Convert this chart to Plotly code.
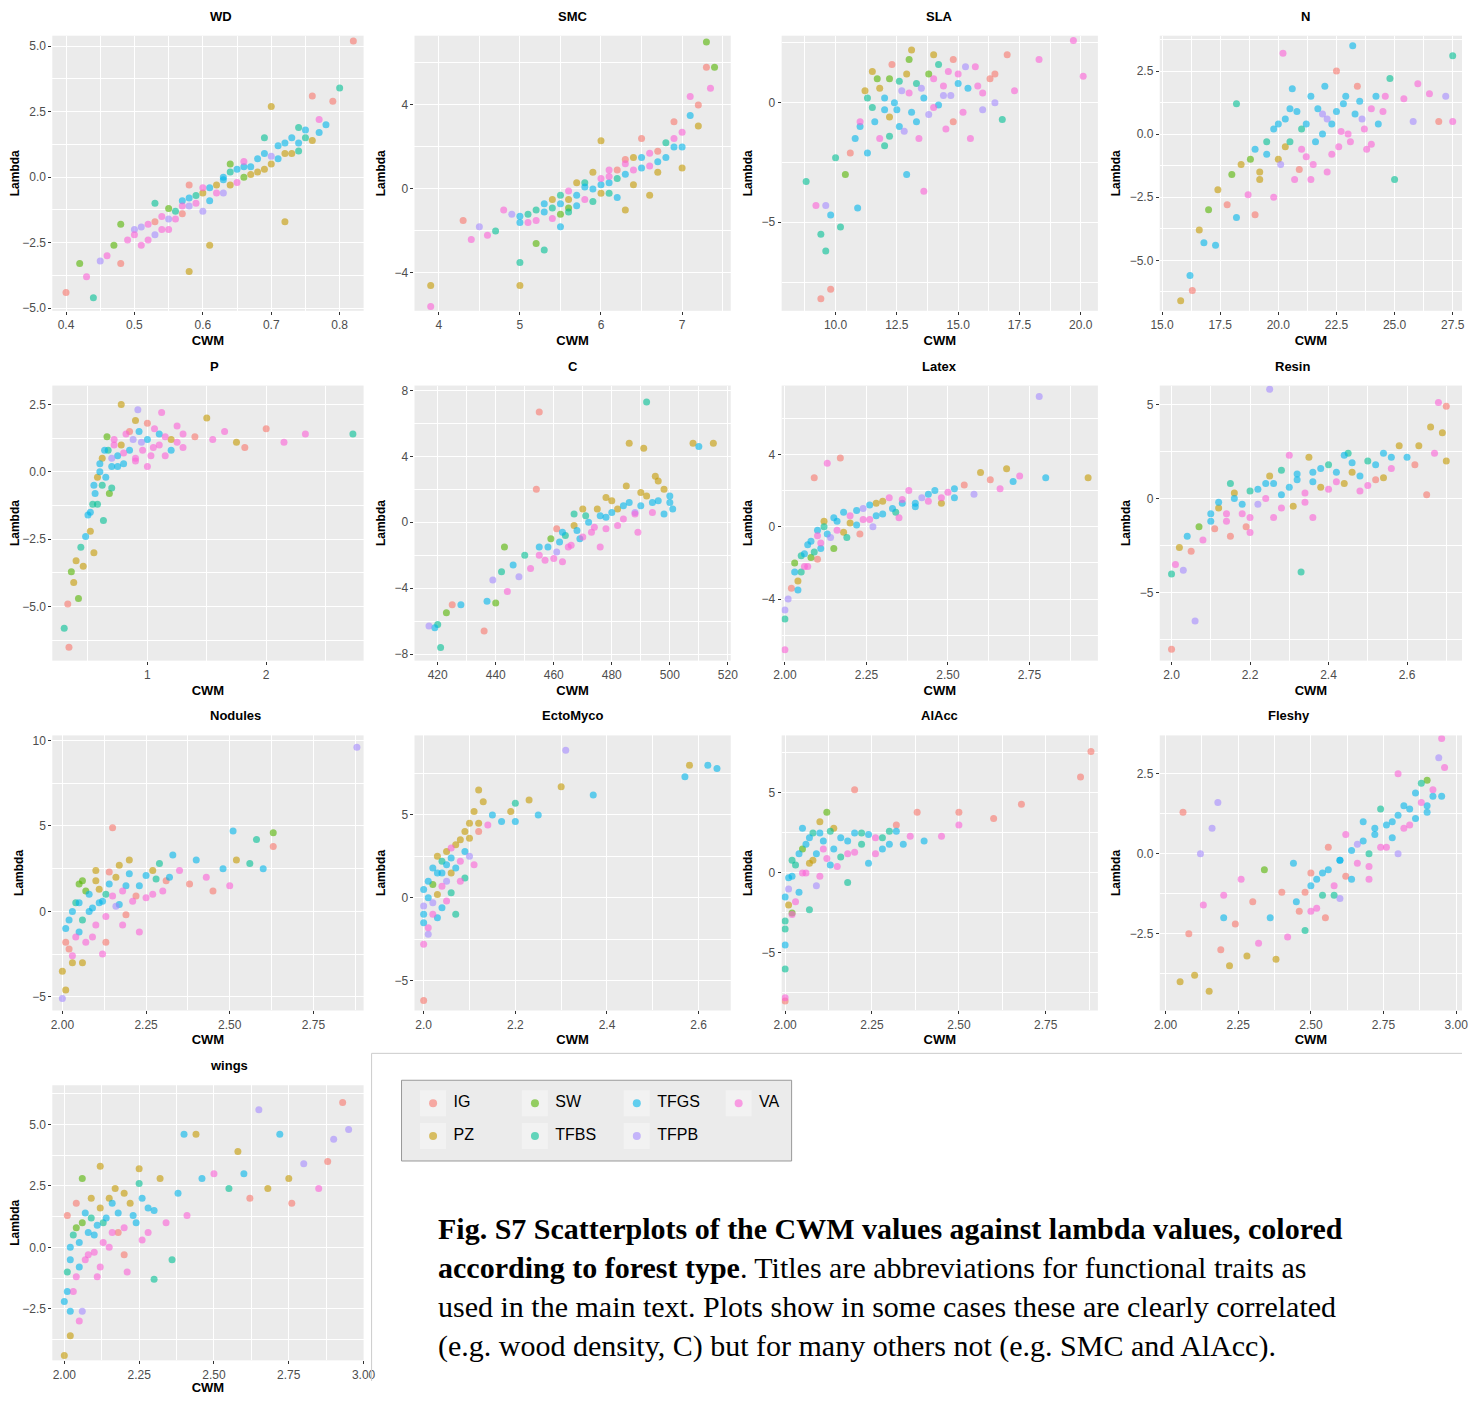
import plotly.graph_objects as go

GROUPS = ["IG", "PZ", "SW", "TFBS", "TFGS", "TFPB", "VA"]
COLORS = ["#F8766D", "#C49A00", "#53B400", "#00C094", "#00B6EB", "#A58AFF", "#FB61D7"]

# (CWM, Lambda, group index): outlying points, then the dense core of each cloud
WD = [(0.40,-4.4,0),(0.42,-3.3,2),(0.43,-3.8,6),(0.44,-4.6,3),(0.45,-3.2,5),(0.46,-3.0,6),(0.47,-2.6,2),(0.48,-3.3,0),(0.49,-2.4,6),(0.50,-2.0,5),(0.51,-2.6,6),(0.52,-1.8,6),(0.53,-2.2,5),(0.54,-1.5,6),(0.55,-1.2,2),(0.56,-1.6,6),(0.57,-0.9,4),(0.58,-3.6,1),(0.58,-1.1,5),(0.59,-0.7,3),(0.60,-0.4,6),(0.61,-2.6,1),(0.61,-0.9,4),(0.62,-0.3,1),(0.63,-0.1,4),(0.64,0.2,3),(0.65,-0.2,6),(0.66,0.4,4),(0.67,0.1,1),(0.68,0.7,4),(0.69,0.3,1),(0.70,0.8,5),(0.71,1.2,4),(0.72,0.9,1),(0.72,-1.7,1),(0.73,1.5,4),(0.74,1.0,3),(0.75,1.8,4),(0.76,1.4,1),(0.77,2.2,6),(0.78,2.0,4),(0.79,2.9,0),(0.80,3.4,3),(0.82,5.2,0),(0.70,2.7,1),(0.55,-2.0,6),(0.57,-1.4,0),(0.63,-0.6,5),(0.66,0.0,2),(0.53,-1.0,3),(0.48,-1.8,2),(0.69,1.5,3),(0.74,1.9,3),(0.76,3.1,0)]
WD_CORE = [(0.50,-2.2,6),(0.51,-1.9,5),(0.52,-2.4,6),(0.53,-1.7,0),(0.54,-2.0,6),(0.55,-1.6,5),(0.56,-1.3,3),(0.57,-1.1,6),(0.58,-0.8,4),(0.59,-1.0,6),(0.60,-0.6,1),(0.61,-0.4,4),(0.62,-0.6,6),(0.63,0.0,4),(0.64,-0.3,1),(0.65,0.3,4),(0.66,0.6,6),(0.67,0.4,4),(0.68,0.2,1),(0.69,0.9,4),(0.70,0.5,1),(0.71,0.7,4),(0.72,1.3,4),(0.73,0.9,1),(0.74,1.3,4),(0.75,1.5,3),(0.77,1.7,4),(0.64,0.5,2),(0.60,-1.3,5),(0.58,-0.3,0)]
SMC = [(3.9,-4.6,1),(3.9,-5.6,6),(4.3,-1.5,0),(4.4,-2.4,6),(4.5,-1.8,5),(4.6,-2.2,6),(4.7,-2.0,3),(4.8,-1.0,6),(4.9,-1.2,5),(5.0,-4.6,1),(5.0,-3.5,3),(5.0,-1.3,4),(5.1,-1.6,6),(5.2,-1.0,3),(5.2,-2.6,2),(5.3,-0.7,4),(5.3,-2.9,3),(5.4,-0.5,1),(5.5,-1.8,4),(5.5,-0.3,3),(5.6,-0.1,6),(5.7,-0.8,4),(5.7,0.3,1),(5.8,0.1,4),(5.9,0.8,1),(5.9,-0.6,3),(6.0,0.2,4),(6.0,2.3,1),(6.1,0.6,6),(6.2,0.9,0),(6.2,-0.4,4),(6.3,1.2,6),(6.3,-1.0,1),(6.4,1.5,1),(6.5,1.0,4),(6.5,2.4,0),(6.6,1.7,6),(6.6,-0.3,1),(6.7,1.3,4),(6.8,2.2,3),(6.9,2.0,4),(6.9,3.2,0),(7.0,2.7,6),(7.0,1.0,1),(7.1,3.5,4),(7.1,4.4,6),(7.2,3.0,1),(7.2,4.0,0),(7.3,5.8,0),(7.3,7.0,2),(7.4,5.8,2),(7.35,4.8,6),(6.1,-0.2,3),(5.6,-0.9,2)]
SMC_CORE = [(5.0,-1.6,4),(5.1,-1.2,3),(5.2,-1.5,6),(5.3,-1.1,4),(5.4,-0.9,3),(5.4,-1.4,6),(5.5,-0.7,4),(5.6,-0.5,1),(5.6,-1.1,3),(5.7,-0.3,4),(5.8,-0.5,6),(5.8,0.3,3),(5.9,0.0,4),(6.0,0.5,6),(6.0,-0.2,1),(6.1,0.3,4),(6.1,0.9,6),(6.2,0.5,3),(6.3,0.7,4),(6.3,1.4,0),(6.4,0.9,6),(6.5,1.5,4),(6.6,1.1,6),(6.7,1.8,0),(6.8,1.5,4),(6.9,2.4,6),(7.0,2.0,4),(6.4,0.2,1),(6.7,0.8,1),(5.5,-1.2,2)]
SLA = [(8.8,-3.3,3),(9.2,-4.3,6),(9.4,-5.5,3),(9.4,-8.2,0),(9.6,-4.3,5),(9.6,-6.2,3),(9.8,-7.8,0),(9.8,-4.7,4),(10.0,-2.3,3),(10.2,-5.2,3),(10.4,-3.0,2),(10.6,-2.1,0),(10.8,-1.5,4),(10.9,-4.4,4),(11.0,-0.8,6),(11.2,0.5,1),(11.3,-2.1,4),(11.5,-0.2,3),(11.7,1.0,2),(11.8,-1.5,6),(12.0,0.2,4),(12.2,-0.6,1),(12.3,1.6,0),(12.5,-0.3,4),(12.6,0.9,3),(12.8,-1.2,5),(12.9,-3.0,4),(13.0,0.4,6),(13.1,2.2,1),(13.3,-0.8,4),(13.5,0.6,5),(13.6,-3.7,6),(13.8,1.2,2),(14.0,-0.2,6),(14.2,1.6,3),(14.4,0.3,5),(14.6,1.3,6),(14.8,-0.8,0),(15.0,0.8,4),(15.3,1.5,5),(15.5,-1.5,6),(15.8,0.7,6),(16.0,-0.3,5),(16.3,1.0,0),(16.5,0.0,5),(16.8,-0.7,3),(17.0,2.0,0),(17.3,0.5,6),(18.3,1.8,6),(19.7,2.6,6),(20.1,1.1,6),(14.0,2.0,1),(12.0,-1.8,3)]
SLA_CORE = [(11.0,-1.0,4),(11.3,0.2,3),(11.6,-0.8,4),(11.8,0.6,1),(12.0,-0.3,4),(12.2,1.0,2),(12.4,0.0,4),(12.6,-1.0,4),(12.7,0.5,5),(12.9,1.2,1),(13.1,-0.4,4),(13.3,0.8,3),(13.4,-1.5,6),(13.6,0.2,4),(13.8,-0.5,5),(14.0,1.0,6),(14.2,-0.1,4),(14.4,0.7,6),(14.5,-1.1,6),(14.7,0.3,5),(15.0,1.2,6),(15.2,-0.4,6),(15.4,0.6,4),(15.7,1.5,6),(16.0,0.4,6),(12.2,-1.4,3),(11.5,1.3,1),(13.0,1.8,2),(14.8,1.8,0),(16.5,1.2,0)]
N = [(15.8,-6.6,1),(16.2,-5.6,4),(16.3,-6.2,0),(16.6,-3.8,1),(16.8,-4.3,4),(17.0,-3.0,2),(17.3,-4.4,4),(17.4,-2.2,1),(17.8,-2.8,0),(18.0,-1.6,2),(18.2,-3.3,4),(18.4,-1.2,1),(18.7,-2.4,6),(19.0,-0.6,4),(19.2,-1.8,1),(19.5,-0.3,3),(19.8,-2.5,6),(20.0,0.4,4),(20.1,-1.2,5),(20.3,-0.5,1),(20.5,1.0,4),(20.7,-1.8,6),(21.0,0.2,3),(21.2,-0.9,6),(21.4,1.5,4),(21.6,-0.3,4),(21.9,0.8,5),(22.1,-1.5,6),(22.3,0.4,4),(22.6,-0.5,6),(22.8,1.2,4),(23.0,0.0,6),(23.2,3.5,4),(23.4,1.9,0),(23.6,0.6,5),(24.0,-0.4,6),(24.2,1.5,4),(24.5,0.9,6),(24.8,2.2,3),(25.0,-1.8,3),(25.4,1.4,6),(25.8,0.5,5),(26.0,2.0,6),(26.5,1.6,6),(26.9,0.5,0),(27.2,1.5,5),(27.5,3.1,3),(27.5,0.5,6),(20.2,3.2,6),(18.2,1.2,3),(22.5,2.5,0),(19.0,-3.2,0)]
N_CORE = [(19.5,-0.8,4),(19.8,0.2,4),(20.0,-1.0,1),(20.3,0.6,4),(20.5,-0.3,3),(20.8,0.9,4),(21.0,-0.6,6),(21.2,0.4,4),(21.5,-1.2,6),(21.7,1.0,4),(21.9,0.0,4),(22.1,0.6,5),(22.3,-0.8,6),(22.5,0.9,4),(22.7,0.1,6),(22.9,1.5,4),(23.1,-0.3,6),(23.3,0.8,4),(23.5,1.3,4),(23.7,0.2,6),(24.0,1.0,6),(24.3,0.4,4),(24.6,1.5,6),(20.6,1.8,4),(19.2,-1.5,1),(21.4,-1.8,6),(22.0,1.9,4),(23.8,-0.6,6),(18.8,-1.0,2),(20.9,-1.4,0)]
P = [(0.30,-5.8,3),(0.33,-4.9,0),(0.34,-6.5,0),(0.36,-3.7,2),(0.38,-4.1,1),(0.40,-3.3,1),(0.42,-4.7,2),(0.44,-2.8,3),(0.46,-3.5,1),(0.48,-2.4,4),(0.50,-1.6,4),(0.52,-2.2,1),(0.54,-1.2,3),(0.56,-0.8,4),(0.58,-0.2,1),(0.60,0.3,4),(0.62,-0.5,3),(0.64,0.8,4),(0.66,1.3,2),(0.70,0.5,5),(0.72,1.0,6),(0.75,0.2,4),(0.78,2.5,1),(0.80,0.7,6),(0.85,1.5,0),(0.90,0.4,6),(0.95,1.1,5),(1.00,1.8,0),(1.05,0.9,6),(1.10,1.4,4),(1.15,0.6,6),(1.20,1.2,1),(1.25,1.7,6),(1.30,0.9,6),(1.40,1.3,0),(1.50,2.0,1),(1.55,1.2,6),(1.65,1.5,6),(1.75,1.1,1),(1.82,0.9,0),(2.00,1.6,0),(2.15,1.1,6),(2.33,1.4,6),(2.73,1.4,3),(0.55,-3.0,1),(0.68,-0.8,2),(0.92,2.3,5),(1.12,2.2,6)]
P_CORE = [(0.52,-1.5,4),(0.55,-0.5,4),(0.58,-1.2,3),(0.60,0.0,4),(0.62,0.5,1),(0.65,-0.2,4),(0.67,0.8,3),(0.70,0.2,4),(0.72,1.2,6),(0.75,0.6,4),(0.78,1.0,1),(0.80,0.3,4),(0.82,1.4,6),(0.85,0.8,4),(0.88,1.2,5),(0.90,0.5,6),(0.93,1.5,4),(0.96,0.8,6),(1.00,1.2,4),(1.03,0.6,6),(1.06,1.6,6),(1.10,1.0,6),(1.15,1.3,6),(1.20,0.8,4),(1.25,1.1,6),(1.30,1.4,6),(0.70,-0.6,3),(0.63,-1.8,3),(0.90,1.9,1),(1.00,0.2,6)]
C = [(417,-6.3,5),(419,-6.4,4),(420,-6.2,3),(421,-7.6,3),(423,-5.5,2),(425,-5.0,0),(428,-5.0,4),(436,-6.6,0),(437,-4.8,4),(439,-3.5,5),(440,-4.9,2),(442,-3.0,3),(444,-4.2,6),(446,-2.6,4),(448,-3.3,5),(450,-2.0,3),(452,-2.8,6),(454,2.0,0),(455,6.7,0),(455,-1.5,4),(457,-2.3,6),(459,-1.0,2),(461,-1.8,5),(463,-0.6,4),(465,-1.5,6),(467,-0.2,1),(469,-1.0,4),(471,0.4,3),(473,-0.6,6),(475,0.8,1),(476,-1.5,6),(478,0.3,4),(480,1.3,1),(482,-0.2,6),(484,1.0,4),(486,4.8,1),(488,0.6,5),(490,1.8,1),(491,4.5,1),(492,7.3,3),(494,1.2,4),(496,2.5,1),(498,0.5,4),(500,1.6,4),(501,0.8,4),(508,4.8,1),(510,4.6,4),(515,4.8,1),(461,-0.4,0),(443,-1.5,2)]
C_CORE = [(455,-2.0,6),(458,-1.5,4),(460,-2.2,6),(462,-1.2,4),(464,-0.8,3),(466,-1.4,6),(468,-0.5,4),(470,-0.9,6),(472,0.0,4),(474,-0.3,6),(476,0.4,4),(478,-0.4,6),(480,0.6,4),(482,0.8,1),(484,0.2,6),(486,1.2,4),(488,0.5,6),(490,1.0,4),(492,1.6,1),(494,0.6,6),(496,1.3,4),(498,2.0,1),(500,1.2,4),(470,0.8,1),(478,1.5,1),(485,2.2,1),(463,-2.4,6),(489,-0.6,6),(495,2.8,1),(467,0.5,3)]
LATEX = [(2.00,-6.8,6),(2.00,-4.6,5),(2.00,-5.1,3),(2.01,-4.0,5),(2.02,-3.4,0),(2.03,-2.5,4),(2.04,-3.0,1),(2.05,-1.6,3),(2.06,-2.2,6),(2.07,-1.0,4),(2.08,-1.7,2),(2.09,2.7,0),(2.10,-0.5,6),(2.11,-1.2,4),(2.12,0.0,3),(2.13,3.5,6),(2.14,-0.6,5),(2.16,0.3,4),(2.17,3.8,0),(2.18,-0.3,1),(2.20,0.6,6),(2.22,0.1,4),(2.24,1.0,5),(2.26,0.4,6),(2.28,1.3,1),(2.30,0.7,4),(2.32,1.6,6),(2.34,0.8,3),(2.36,1.3,4),(2.38,2.0,6),(2.40,1.1,4),(2.42,1.6,5),(2.44,1.4,6),(2.46,2.0,4),(2.48,1.3,1),(2.50,1.9,6),(2.52,1.6,4),(2.55,2.3,0),(2.58,1.8,5),(2.60,3.0,1),(2.63,2.6,0),(2.66,2.1,6),(2.68,3.2,1),(2.70,2.5,4),(2.72,2.8,6),(2.78,7.2,5),(2.80,2.7,4),(2.93,2.7,1),(2.15,-1.2,2),(2.23,-0.4,0)]
LATEX_CORE = [(2.05,-2.5,3),(2.06,-1.5,4),(2.07,-2.2,6),(2.08,-0.8,4),(2.09,-1.4,3),(2.10,-0.2,4),(2.11,-0.9,6),(2.12,0.3,1),(2.13,-0.4,4),(2.15,0.5,4),(2.16,-0.2,6),(2.18,0.8,4),(2.20,0.2,1),(2.22,0.9,4),(2.24,0.4,6),(2.26,1.2,4),(2.28,0.6,4),(2.30,1.4,1),(2.33,1.0,4),(2.36,1.5,6),(2.40,1.3,4),(2.44,1.8,4),(2.48,1.6,6),(2.04,-3.5,4),(2.03,-2.0,2),(2.19,-0.6,3),(2.27,0.0,5),(2.35,0.5,6),(2.52,2.1,4),(2.10,-1.8,0)]
RESIN = [(2.00,-8.0,0),(2.00,-4.0,3),(2.01,-3.5,6),(2.02,-2.6,1),(2.03,-3.8,5),(2.04,-2.0,4),(2.05,-2.8,0),(2.06,-6.5,5),(2.07,-1.5,2),(2.08,-2.2,6),(2.10,-0.8,4),(2.11,-1.6,0),(2.12,-0.5,1),(2.14,-1.2,6),(2.16,0.0,4),(2.18,-0.8,6),(2.19,-1.5,0),(2.20,0.4,3),(2.22,-0.3,5),(2.24,0.8,4),(2.25,5.8,5),(2.26,-1.0,6),(2.28,0.2,4),(2.30,2.3,6),(2.31,-0.4,1),(2.32,1.0,4),(2.33,-3.9,3),(2.34,0.3,6),(2.36,1.4,4),(2.38,0.6,1),(2.40,1.8,3),(2.42,0.9,6),(2.44,2.3,4),(2.46,1.4,1),(2.48,0.4,6),(2.50,2.0,3),(2.52,1.0,0),(2.54,2.4,4),(2.56,1.6,6),(2.58,2.8,1),(2.60,2.2,4),(2.62,1.8,0),(2.63,2.8,1),(2.65,0.2,0),(2.66,3.8,1),(2.67,2.4,6),(2.68,5.1,6),(2.69,3.5,1),(2.70,4.9,0),(2.70,2.0,1),(2.35,2.2,1),(2.15,0.8,3)]
RESIN_CORE = [(2.10,-1.2,4),(2.12,-0.2,4),(2.14,-0.8,6),(2.16,0.3,1),(2.18,-0.3,4),(2.20,-1.0,6),(2.22,0.5,4),(2.24,0.0,6),(2.26,0.8,4),(2.28,-0.5,6),(2.30,0.6,4),(2.32,1.3,4),(2.34,-0.2,6),(2.36,0.9,4),(2.38,1.6,4),(2.40,0.5,6),(2.42,1.4,4),(2.44,0.8,1),(2.46,1.9,4),(2.48,1.2,4),(2.50,0.7,6),(2.52,1.8,4),(2.54,1.1,1),(2.56,2.2,4),(2.20,-1.8,6),(2.28,1.5,3),(2.36,-1.0,6),(2.15,-2.0,0),(2.45,2.4,3),(2.25,1.2,1)]
NODULES = [(2.00,-5.1,5),(2.00,-3.5,1),(2.01,-1.8,0),(2.01,-4.6,1),(2.02,-0.5,4),(2.03,-2.6,6),(2.04,0.5,3),(2.05,-1.2,4),(2.06,-3.0,1),(2.07,1.2,2),(2.08,0.0,4),(2.09,-1.5,6),(2.10,1.8,1),(2.11,0.5,4),(2.12,-2.5,6),(2.13,1.0,3),(2.14,2.3,0),(2.15,4.9,0),(2.16,0.3,5),(2.17,2.7,1),(2.18,-0.8,6),(2.19,1.5,4),(2.20,3.0,1),(2.22,0.9,0),(2.23,-1.2,6),(2.25,2.1,4),(2.27,1.0,6),(2.29,2.8,3),(2.31,1.8,0),(2.33,3.3,4),(2.35,2.4,6),(2.38,1.6,0),(2.40,3.0,4),(2.43,2.0,6),(2.45,1.2,0),(2.48,2.5,4),(2.50,1.5,6),(2.51,4.7,4),(2.52,3.0,1),(2.56,2.8,3),(2.58,4.2,3),(2.60,2.5,4),(2.63,4.6,2),(2.63,3.8,0),(2.88,9.6,5),(2.05,1.6,2),(2.13,-1.8,0)]
NODULES_CORE = [(2.01,-1.0,4),(2.02,-2.2,0),(2.03,0.0,4),(2.04,-1.5,6),(2.05,0.5,4),(2.06,-0.5,3),(2.07,-1.8,6),(2.08,1.0,4),(2.09,0.2,4),(2.10,-0.8,6),(2.11,1.3,1),(2.12,0.6,4),(2.13,-0.3,6),(2.14,1.6,4),(2.15,0.9,6),(2.16,2.0,1),(2.17,0.4,4),(2.18,1.2,6),(2.20,2.2,4),(2.21,0.6,6),(2.23,1.5,4),(2.25,0.8,6),(2.27,2.4,1),(2.30,1.2,6),(2.32,2.0,4),(2.03,-3.0,1),(2.06,1.8,2),(2.10,2.4,1),(2.19,-0.2,0),(2.28,1.9,3)]
ECTOMYCO = [(2.00,-6.2,0),(2.00,-2.8,6),(2.00,-1.5,4),(2.00,-0.5,5),(2.01,0.0,4),(2.01,-2.2,5),(2.02,0.8,2),(2.02,-1.0,6),(2.03,1.5,4),(2.03,0.2,1),(2.04,2.2,3),(2.04,-0.6,4),(2.05,2.8,1),(2.05,1.0,5),(2.06,0.3,3),(2.06,3.0,6),(2.07,1.8,4),(2.07,-1.0,3),(2.08,3.5,1),(2.08,2.2,6),(2.09,4.0,1),(2.09,1.2,3),(2.10,4.5,1),(2.10,2.5,5),(2.11,5.2,1),(2.12,4.0,0),(2.12,6.5,1),(2.13,5.8,1),(2.14,4.4,6),(2.15,5.0,4),(2.17,4.6,4),(2.19,5.2,1),(2.20,4.6,4),(2.20,5.7,3),(2.23,5.9,1),(2.25,5.0,4),(2.30,6.7,1),(2.31,8.9,5),(2.37,6.2,4),(2.57,7.3,4),(2.58,8.0,1),(2.62,8.0,4),(2.64,7.8,4)]
ECTOMYCO_CORE = [(2.00,-1.0,4),(2.00,0.5,4),(2.01,-1.8,6),(2.01,1.0,4),(2.02,-0.3,5),(2.02,1.8,4),(2.03,-1.2,4),(2.03,2.5,1),(2.04,0.7,6),(2.04,1.5,4),(2.05,2.0,4),(2.05,-0.2,6),(2.06,1.5,1),(2.06,2.4,4),(2.07,3.2,1),(2.08,1.0,6),(2.09,2.8,4),(2.10,3.6,1),(2.11,2.0,6),(2.12,4.5,1)]
ALACC = [(2.00,-8.0,0),(2.00,-6.0,3),(2.00,-7.8,6),(2.00,-4.5,4),(2.00,-3.0,3),(2.01,-2.0,1),(2.01,-1.0,5),(2.02,-0.2,4),(2.02,-2.6,6),(2.03,0.5,3),(2.04,-1.2,4),(2.05,1.5,2),(2.06,0.0,6),(2.07,2.2,4),(2.08,0.8,1),(2.09,-0.8,5),(2.10,2.5,4),(2.11,1.5,6),(2.12,3.8,2),(2.13,0.5,4),(2.14,2.8,1),(2.16,1.0,3),(2.18,2.0,4),(2.20,5.2,0),(2.20,1.3,6),(2.22,2.5,3),(2.24,0.6,4),(2.26,2.2,6),(2.28,1.5,4),(2.30,2.6,3),(2.32,3.0,0),(2.34,1.8,4),(2.36,2.3,6),(2.38,3.8,0),(2.40,2.0,4),(2.45,2.3,6),(2.50,3.8,0),(2.50,3.0,6),(2.60,3.4,0),(2.68,4.3,0),(2.85,6.0,0),(2.88,7.6,0),(2.07,-2.3,3)]
ALACC_CORE = [(2.00,-1.5,4),(2.01,-0.3,4),(2.02,0.8,3),(2.03,-1.8,6),(2.04,1.2,4),(2.05,0.0,6),(2.06,1.8,4),(2.07,0.6,1),(2.08,2.5,3),(2.09,1.2,4),(2.10,-0.2,6),(2.11,2.0,4),(2.12,0.9,6),(2.13,2.6,3),(2.14,1.5,4),(2.15,0.4,6),(2.16,2.2,4),(2.18,1.2,6),(2.20,2.5,4),(2.22,1.8,3),(2.24,2.4,4),(2.26,1.2,6),(2.28,2.2,3),(2.30,1.8,4),(2.32,2.6,4),(2.00,-3.5,3),(2.02,-2.5,2),(2.10,3.2,1),(2.05,2.8,4),(2.18,-0.6,3)]
FLESHY = [(2.05,-4.0,1),(2.06,1.3,0),(2.08,-2.5,0),(2.10,-3.8,1),(2.12,0.0,5),(2.13,-1.6,6),(2.15,-4.3,1),(2.16,0.8,5),(2.18,1.6,5),(2.19,-3.0,0),(2.20,-1.3,6),(2.22,-3.5,1),(2.24,-2.2,0),(2.26,-0.8,6),(2.28,-3.2,1),(2.30,-1.5,0),(2.32,-2.8,6),(2.34,-0.5,2),(2.36,-2.0,4),(2.38,-3.3,1),(2.40,-1.2,0),(2.42,-2.6,6),(2.44,-0.3,4),(2.46,-1.8,0),(2.48,-2.4,3),(2.50,-1.0,4),(2.52,-1.7,6),(2.54,-0.6,4),(2.56,0.2,0),(2.58,-1.3,3),(2.60,-0.2,4),(2.62,0.6,6),(2.64,-0.8,4),(2.66,0.3,5),(2.68,1.0,4),(2.70,-0.4,6),(2.72,0.8,4),(2.74,1.4,3),(2.76,0.2,6),(2.78,1.0,4),(2.80,2.5,6),(2.82,1.5,4),(2.84,0.9,6),(2.86,1.9,4),(2.88,2.2,3),(2.90,1.5,4),(2.92,2.0,6),(2.94,3.0,5),(2.95,3.6,6),(2.96,2.7,6),(2.95,1.8,4),(2.20,-2.0,4)]
FLESHY_CORE = [(2.45,-1.5,4),(2.48,-1.2,0),(2.50,-1.8,6),(2.52,-0.8,4),(2.54,-1.3,3),(2.56,-0.5,4),(2.58,-1.0,6),(2.60,-0.2,4),(2.62,-0.7,0),(2.64,0.1,4),(2.66,-0.3,6),(2.68,0.4,4),(2.70,0.0,3),(2.72,0.6,4),(2.74,0.2,6),(2.76,0.9,4),(2.78,0.5,4),(2.80,1.2,4),(2.82,0.8,6),(2.84,1.4,4),(2.86,1.1,4),(2.88,1.6,6),(2.90,1.3,4),(2.92,1.8,4),(2.55,-2.0,0),(2.60,-1.4,5),(2.70,-0.8,6),(2.80,0.0,5),(2.90,2.3,2),(2.50,-0.6,0)]
WINGS = [(2.00,-4.4,1),(2.00,-2.2,4),(2.01,-1.0,3),(2.01,1.3,0),(2.02,-3.6,1),(2.02,0.0,4),(2.03,-1.8,6),(2.04,0.8,2),(2.05,-0.8,4),(2.06,2.8,2),(2.06,-2.6,5),(2.07,1.4,4),(2.08,-0.3,6),(2.09,2.0,1),(2.10,0.5,4),(2.11,-1.2,6),(2.12,3.3,1),(2.13,1.0,3),(2.15,0.0,6),(2.16,1.8,4),(2.18,0.6,0),(2.20,2.2,1),(2.21,-1.0,6),(2.23,1.3,4),(2.25,3.2,1),(2.26,0.3,6),(2.28,1.6,4),(2.30,-1.3,3),(2.32,2.8,1),(2.34,1.0,6),(2.36,-0.5,3),(2.38,2.2,4),(2.40,4.6,4),(2.41,1.3,6),(2.44,4.6,1),(2.46,2.8,4),(2.50,3.0,6),(2.55,2.4,3),(2.58,3.9,1),(2.60,3.0,4),(2.62,2.0,0),(2.65,5.6,5),(2.68,2.4,1),(2.72,4.6,4),(2.75,2.8,1),(2.80,3.4,5),(2.85,2.4,6),(2.88,3.5,0),(2.90,4.4,5),(2.93,5.9,0),(2.95,4.8,5),(2.76,1.8,0)]
WINGS_CORE = [(2.01,-1.8,4),(2.02,-0.5,4),(2.03,0.5,3),(2.04,-1.2,6),(2.05,0.2,4),(2.06,1.0,2),(2.07,-0.5,6),(2.08,0.6,4),(2.09,1.2,3),(2.10,-0.2,6),(2.11,0.9,4),(2.12,1.6,1),(2.13,0.2,6),(2.14,1.2,4),(2.15,2.0,1),(2.16,0.6,6),(2.18,1.4,4),(2.20,0.8,6),(2.22,1.8,1),(2.24,1.0,4),(2.26,2.0,4),(2.28,0.6,6),(2.30,1.5,4),(2.02,-2.6,4),(2.05,-3.0,6),(2.17,2.4,1),(2.12,-0.8,6),(2.25,2.6,3),(2.04,1.8,0),(2.20,-0.3,0)]

# title, data, x range, x dtick, x format, y range, y dtick, y format
PANELS = [
    ("WD", WD + WD_CORE, [0.38, 0.835], 0.1, ".1f", [-5.1, 5.4], 2.5, ".1f"),
    ("SMC", SMC + SMC_CORE, [3.7, 7.6], 1, "d", [-5.8, 7.3], 4, "d"),
    ("SLA", SLA + SLA_CORE, [7.8, 20.7], 2.5, ".1f", [-8.7, 2.8], 5, "d"),
    ("N", N + N_CORE, [14.9, 27.9], 2.5, ".1f", [-7.0, 3.9], 2.5, ".1f"),
    ("P", P + P_CORE, [0.2, 2.82], 1, "d", [-7.0, 3.2], 2.5, ".1f"),
    ("C", C + C_CORE, [412, 521], 20, "d", [-8.4, 8.3], 4, "d"),
    ("Latex", LATEX + LATEX_CORE, [1.99, 2.96], 0.25, ".2f", [-7.4, 7.8], 4, "d"),
    ("Resin", RESIN + RESIN_CORE, [1.97, 2.74], 0.2, ".1f", [-8.6, 6.0], 5, "d"),
    ("Nodules", NODULES + NODULES_CORE, [1.97, 2.9], 0.25, ".2f", [-5.8, 10.3], 5, "d"),
    ("EctoMyco", ECTOMYCO + ECTOMYCO_CORE, [1.98, 2.67], 0.2, ".1f", [-6.8, 9.8], 5, "d"),
    ("AlAcc", ALACC + ALACC_CORE, [1.99, 2.9], 0.25, ".2f", [-8.6, 8.6], 5, "d"),
    ("Fleshy", FLESHY + FLESHY_CORE, [1.98, 3.02], 0.25, ".2f", [-4.9, 3.7], 2.5, ".1f"),
    ("wings", WINGS + WINGS_CORE, [1.96, 3.0], 0.25, ".2f", [-4.6, 6.6], 2.5, ".1f"),
]

PAD = 8
W, H = 1482 - 2 * PAD, 1403 - 2 * PAD
COL_PX = [(50, 362), (413, 730), (781, 1098), (1160, 1466)]
ROW_PX = [(37, 313), (388, 664), (739, 1015), (1090, 1366)]


# map a reference pixel to paper coords (small empirical correction for the page scaling)
def px(v):
    return min(1.0, max(0.0, ((v - 8.7) / 0.9866 - PAD) / W))


def py(v):
    return min(1.0, max(0.0, 1 - ((v - 3.3) / 0.9917 - PAD) / H))


fig = go.Figure()
layout = {}
annotations = []

for i, (title, pts, xr, xd, xf, yr, yd, yf) in enumerate(PANELS):
    r, c = divmod(i, 4)
    n = i + 1
    xa, ya = f"x{n}", f"y{n}"
    x0, x1 = COL_PX[c]
    y0, y1 = ROW_PX[r]
    for g, name in enumerate(GROUPS):
        sel = [p for p in pts if p[2] == g]
        fig.add_trace(go.Scatter(
            x=[p[0] for p in sel], y=[p[1] for p in sel], mode="markers",
            marker=dict(color=COLORS[g], size=7, opacity=0.6),
            name=name, showlegend=False, xaxis=xa, yaxis=ya,
        ))
    common = dict(showgrid=True, gridcolor="white", gridwidth=1.1, zeroline=False,
                  ticks="outside", ticklen=3, tickcolor="#333333",
                  tickfont=dict(family="Liberation Sans", size=12, color="#4D4D4D"))
    layout[f"xaxis{n}"] = dict(common, domain=[px(x0), px(x1)], range=xr, dtick=xd,
                               tickformat=xf, anchor=ya,
                               minor=dict(dtick=xd / 2, showgrid=True, gridcolor="white", gridwidth=0.5),
                               title=dict(text="<b>CWM</b>", standoff=4,
                                          font=dict(family="Liberation Sans", size=13, color="black")))
    layout[f"yaxis{n}"] = dict(common, domain=[py(y1), py(y0)], range=yr, dtick=yd,
                               tickformat=yf, anchor=xa,
                               minor=dict(dtick=yd / 2, showgrid=True, gridcolor="white", gridwidth=0.5),
                               title=dict(text="<b>Lambda</b>", standoff=6,
                                          font=dict(family="Liberation Sans", size=12, color="black")))
    annotations.append(dict(text=f"<b>{title}</b>", x=px((x0 + x1) / 2), y=py(y0 - 10),
                            xref="paper", yref="paper", showarrow=False, yanchor="bottom",
                            font=dict(family="Liberation Sans", size=13, color="black")))

# legend drawn in its own axes: column-major, 2 rows
lx = [k // 2 for k in range(len(GROUPS))]
ly = [-(k % 2) for k in range(len(GROUPS))]
fig.add_trace(go.Scatter(x=lx, y=ly, mode="markers", xaxis="x14", yaxis="y14", showlegend=False,
                         marker=dict(symbol="square", size=26, color="#F2F2F2")))
fig.add_trace(go.Scatter(x=lx, y=ly, mode="markers", xaxis="x14", yaxis="y14", showlegend=False,
                         marker=dict(color=COLORS, size=8, opacity=0.6)))
fig.add_trace(go.Scatter(x=[v + 0.2 for v in lx], y=ly, mode="text", text=GROUPS,
                         textposition="middle right", xaxis="x14", yaxis="y14", showlegend=False,
                         textfont=dict(family="Liberation Sans", size=16, color="black")))
layout["xaxis14"] = dict(domain=[px(400), px(791)], range=[-0.31, 3.52], visible=False, anchor="y14")
layout["yaxis14"] = dict(domain=[py(1166), py(1085)], range=[-1.76, 0.7], visible=False, anchor="x14")

shapes = [
    dict(type="rect", xref="paper", yref="paper", x0=px(400), x1=px(791), y0=py(1166), y1=py(1085),
         line=dict(color="#999999", width=1)),
    dict(type="line", xref="paper", yref="paper", x0=px(370), x1=1, y0=py(1058), y1=py(1058),
         line=dict(color="#CCCCCC", width=1)),
    dict(type="line", xref="paper", yref="paper", x0=px(370), x1=px(370), y0=0, y1=py(1058),
         line=dict(color="#CCCCCC", width=1)),
]

caption = ("<b>Fig. S7 Scatterplots of the CWM values against lambda values, colored</b><br>"
           "<b>according to forest type</b>. Titles are abbreviations for functional traits as<br>"
           "used in the main text. Plots show in some cases these are clearly correlated<br>"
           "(e.g. wood density, C) but for many others not (e.g. SMC and AlAcc).")
annotations.append(dict(text=caption, x=px(435), y=py(1215), xref="paper", yref="paper",
                        xanchor="left", yanchor="top", align="left", showarrow=False,
                        font=dict(family="Liberation Serif", size=30, color="black")))

fig.update_layout(**layout)
fig.update_layout(
    width=W, height=H, margin=dict(l=0, r=0, t=0, b=0),
    paper_bgcolor="white", plot_bgcolor="#EBEBEB",
    annotations=annotations, shapes=shapes, showlegend=False,
)

fig.write_html("out.html")
